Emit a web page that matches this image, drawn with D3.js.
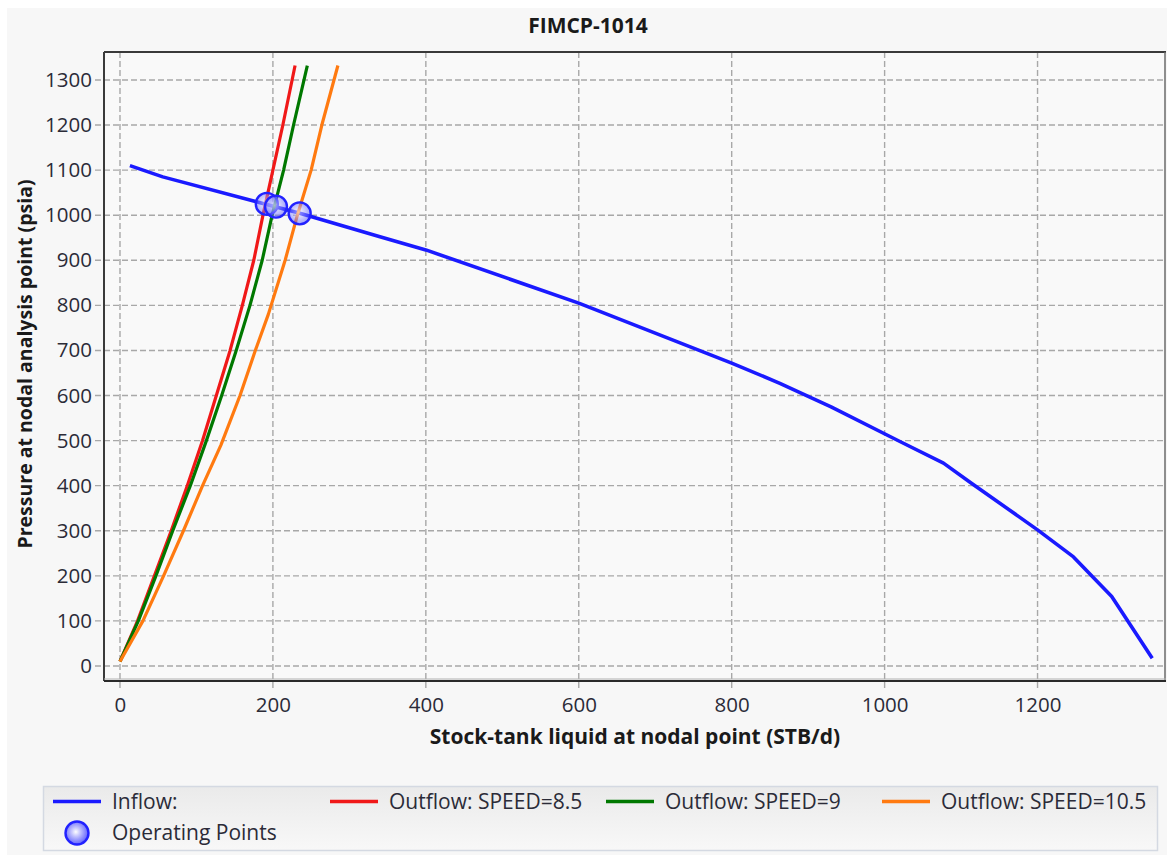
<!DOCTYPE html>
<html>
<head>
<meta charset="utf-8">
<script src="https://cdn.jsdelivr.net/npm/d3@7"></script>
<style>
  html, body { margin: 0; padding: 0; background: #ffffff; }
  svg { display: block; font-family: "Open Sans", "Noto Sans", sans-serif; }
</style>
</head>
<body>
<svg id="chart" width="1167" height="855"></svg>
<script>
// Nodal analysis: inflow performance vs. pump outflow curves
const chartTitle = "FIMCP-1014";
const xTitle = "Stock-tank liquid at nodal point (STB/d)";
const yTitle = "Pressure at nodal analysis point (psia)";

const xTicks = [0, 200, 400, 600, 800, 1000, 1200];
const yTicks = [0, 100, 200, 300, 400, 500, 600, 700, 800, 900, 1000, 1100, 1200, 1300];

// Inflow (IPR): [rate STB/d, pressure psia]
const inflow = [
  [13, 1110], [56, 1085], [234, 1005], [340, 952], [400, 923], [600, 805],
  [800, 672], [863, 627], [930, 575], [1020, 498], [1077, 450], [1114, 405],
  [1200, 302], [1247, 242], [1297, 154], [1350, 17]
];

// Outflow curves per pump speed
const outflow85 = [
  [0, 10], [23, 100], [45, 200], [67, 300], [88, 400], [108, 500], [126, 600],
  [144, 700], [160, 800], [175, 900], [187, 1000], [200, 1100], [213, 1200], [229, 1332]
];
const outflow9 = [
  [0, 10], [24, 100], [47, 200], [69, 300], [92, 400], [113, 500], [133, 600],
  [152, 700], [170, 800], [186, 900], [199, 1000], [214, 1100], [227, 1200], [245, 1332]
];
const outflow105 = [
  [0, 10], [30, 100], [57, 200], [83, 300], [108, 400], [132, 490], [157, 600],
  [177, 700], [194, 780], [216, 900], [232, 1000], [250, 1100], [264, 1200], [285, 1332]
];

// Operating points (inflow/outflow intersections)
const operatingPoints = [[192, 1025], [204, 1019], [235, 1004]];

const seriesNames = ["Inflow:", "Outflow: SPEED=8.5", "Outflow: SPEED=9", "Outflow: SPEED=10.5"];
const seriesColors = ["#1a1aff", "#f01818", "#007800", "#ff7a10"];
const seriesData = [inflow, outflow85, outflow9, outflow105];

const svg = d3.select("#chart");
const W = 1167, H = 855;
const textColor = "#2b2b38";

// page background
svg.append("rect").attr("width", W).attr("height", H).attr("fill", "#ffffff");
svg.append("rect").attr("x", 7).attr("y", 8).attr("width", W - 7).attr("height", H - 8).attr("fill", "#f7f7f7");

const plot = { left: 104, top: 52, right: 1166, bottom: 681 };

const x = d3.scaleLinear().domain([-20.9, 1368]).range([plot.left, plot.right]);
const y = d3.scaleLinear().domain([-33.3, 1362]).range([plot.bottom, plot.top]);

const defs = svg.append("defs");
defs.append("clipPath").attr("id", "clip")
  .append("rect").attr("x", plot.left).attr("y", plot.top)
  .attr("width", plot.right - plot.left).attr("height", plot.bottom - plot.top);

const grad = defs.append("radialGradient").attr("id", "opGrad")
  .attr("cx", "45%").attr("cy", "45%").attr("r", "60%");
grad.append("stop").attr("offset", "0%").attr("stop-color", "#ffffff").attr("stop-opacity", 0.9);
grad.append("stop").attr("offset", "100%").attr("stop-color", "#3030ff").attr("stop-opacity", 0.8);

const legGrad = defs.append("linearGradient").attr("id", "legGrad")
  .attr("x1", 0).attr("y1", 0).attr("x2", 0).attr("y2", 1);
legGrad.append("stop").attr("offset", "0%").attr("stop-color", "#eaeaea");
legGrad.append("stop").attr("offset", "100%").attr("stop-color", "#f8f8f8");

// plot background
svg.append("rect").attr("x", plot.left).attr("y", plot.top)
  .attr("width", plot.right - plot.left).attr("height", plot.bottom - plot.top)
  .attr("fill", "#f9f9f9");

// gridlines
const grid = svg.append("g").attr("stroke", "#a8a8a8").attr("stroke-width", 1.4)
  .attr("stroke-dasharray", "6,3").attr("fill", "none");
grid.selectAll("line.gx").data(xTicks).join("line").attr("class", "gx")
  .attr("x1", d => x(d)).attr("x2", d => x(d))
  .attr("y1", plot.top).attr("y2", plot.bottom + 8);
grid.selectAll("line.gy").data(yTicks).join("line").attr("class", "gy")
  .attr("y1", d => y(d)).attr("y2", d => y(d))
  .attr("x1", plot.left - 9).attr("x2", plot.right);

// axes (labels via d3 axis generators)
const fmt = d3.format("d");
const xAxis = d3.axisBottom(x).tickValues(xTicks).tickFormat(fmt).tickSize(0).tickPadding(16);
const yAxis = d3.axisLeft(y).tickValues(yTicks).tickFormat(fmt).tickSize(0).tickPadding(12);

const gx = svg.append("g").attr("transform", `translate(0,${plot.bottom})`).call(xAxis);
const gy = svg.append("g").attr("transform", `translate(${plot.left},0)`).call(yAxis);
[gx, gy].forEach(g => {
  g.select(".domain").remove();
  g.selectAll("text").attr("font-size", 20.5).attr("fill", textColor)
    .attr("font-family", '"Open Sans", "Noto Sans", sans-serif');
});

// plot frame
svg.append("line").attr("x1", plot.left).attr("x2", plot.right).attr("y1", plot.top).attr("y2", plot.top)
  .attr("stroke", "#3a3a3a").attr("stroke-width", 2);
svg.append("line").attr("x1", plot.left).attr("x2", plot.left).attr("y1", plot.top).attr("y2", plot.bottom)
  .attr("stroke", "#3a3a3a").attr("stroke-width", 2);
svg.append("line").attr("x1", plot.right - 1).attr("x2", plot.right - 1).attr("y1", plot.top).attr("y2", plot.bottom)
  .attr("stroke", "#6a6a6a").attr("stroke-width", 1.5);
svg.append("line").attr("x1", plot.left).attr("x2", plot.right).attr("y1", plot.bottom - 2).attr("y2", plot.bottom - 2)
  .attr("stroke", "#b0b0b0").attr("stroke-width", 1);
svg.append("line").attr("x1", plot.left).attr("x2", plot.right).attr("y1", plot.bottom).attr("y2", plot.bottom)
  .attr("stroke", "#2a2a2a").attr("stroke-width", 2);

// curves
const line = d3.line().x(d => x(d[0])).y(d => y(d[1]));
const curves = svg.append("g").attr("clip-path", "url(#clip)");
curves.selectAll("path").data(seriesData).join("path")
  .attr("d", line)
  .attr("fill", "none")
  .attr("stroke", (d, i) => seriesColors[i])
  .attr("stroke-width", (d, i) => i === 0 ? 3.6 : 3.2)
  .attr("stroke-linejoin", "round");

// operating points
svg.append("g").selectAll("circle").data(operatingPoints).join("circle")
  .attr("cx", d => x(d[0])).attr("cy", d => y(d[1])).attr("r", 11)
  .attr("fill", "url(#opGrad)").attr("fill-opacity", 0.6)
  .attr("stroke", "#2222ff").attr("stroke-width", 2.4);

// titles
svg.append("text").attr("x", 588).attr("y", 33).attr("text-anchor", "middle")
  .attr("font-size", 21).attr("font-weight", "bold").attr("fill", "#1a1a1a").text(chartTitle);
svg.append("text").attr("x", 635).attr("y", 744).attr("text-anchor", "middle")
  .attr("font-size", 21).attr("font-weight", "bold").attr("fill", "#1a1a1a").text(xTitle);
svg.append("text").attr("transform", "translate(32,364) rotate(-90)").attr("text-anchor", "middle")
  .attr("font-size", 19.5).attr("font-weight", "bold").attr("fill", "#1a1a1a").text(yTitle);

// legend
const leg = svg.append("g");
leg.append("rect").attr("x", 43.5).attr("y", 786.5).attr("width", 1114).attr("height", 64)
  .attr("fill", "url(#legGrad)").attr("stroke", "#d4d9e2").attr("stroke-width", 1.5);

const legX = [53, 330, 606, 882];
seriesNames.forEach((name, i) => {
  leg.append("line").attr("x1", legX[i]).attr("x2", legX[i] + 48)
    .attr("y1", 801.5).attr("y2", 801.5)
    .attr("stroke", seriesColors[i]).attr("stroke-width", 3.5);
  leg.append("text").attr("x", legX[i] + 59).attr("y", 809)
    .attr("font-size", 21).attr("fill", textColor).text(name);
});
leg.append("circle").attr("cx", 77).attr("cy", 833).attr("r", 11.5)
  .attr("fill", "url(#opGrad)").attr("stroke", "#2222ff").attr("stroke-width", 2.4);
leg.append("text").attr("x", 112).attr("y", 840)
  .attr("font-size", 21).attr("fill", textColor).text("Operating Points");
</script>
</body>
</html>
